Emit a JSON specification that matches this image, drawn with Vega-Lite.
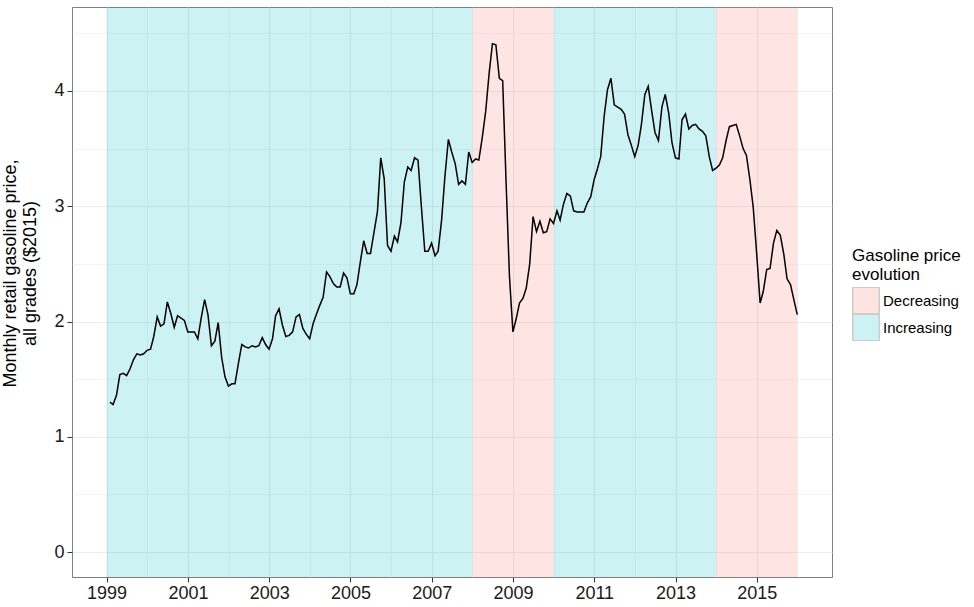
{
  "$schema": "https://vega.github.io/schema/vega-lite/v6.json",
  "width": 760,
  "height": 570,
  "autosize": {"type": "none"},
  "padding": {"left": 72, "top": 7, "right": 142, "bottom": 30},
  "background": "white",
  "config": {
    "font": "Liberation Sans",
    "view": {"stroke": "#7f7f7f", "strokeWidth": 1}
  },
  "layer": [
    {
      "data": {
        "values": [
          {"start": "1999-01-01", "end": "2008-01-01", "evolution": "Increasing"},
          {"start": "2008-01-01", "end": "2010-01-01", "evolution": "Decreasing"},
          {"start": "2010-01-01", "end": "2014-01-01", "evolution": "Increasing"},
          {"start": "2014-01-01", "end": "2016-01-01", "evolution": "Decreasing"}
        ]
      },
      "mark": {"type": "rect", "opacity": 0.2},
      "encoding": {
        "x": {
          "field": "start",
          "type": "temporal",
          "scale": {
            "type": "utc",
            "nice": false,
            "domain": [
              {"year": 1998, "month": 2, "date": 24, "utc": true},
              {"year": 2016, "month": 11, "date": 7, "utc": true}
            ]
          },
          "axis": {
            "values": [
              {"year": 1999, "month": 1, "date": 1, "utc": true},
              {"year": 2000, "month": 1, "date": 1, "utc": true},
              {"year": 2001, "month": 1, "date": 1, "utc": true},
              {"year": 2002, "month": 1, "date": 1, "utc": true},
              {"year": 2003, "month": 1, "date": 1, "utc": true},
              {"year": 2004, "month": 1, "date": 1, "utc": true},
              {"year": 2005, "month": 1, "date": 1, "utc": true},
              {"year": 2006, "month": 1, "date": 1, "utc": true},
              {"year": 2007, "month": 1, "date": 1, "utc": true},
              {"year": 2008, "month": 1, "date": 1, "utc": true},
              {"year": 2009, "month": 1, "date": 1, "utc": true},
              {"year": 2010, "month": 1, "date": 1, "utc": true},
              {"year": 2011, "month": 1, "date": 1, "utc": true},
              {"year": 2012, "month": 1, "date": 1, "utc": true},
              {"year": 2013, "month": 1, "date": 1, "utc": true},
              {"year": 2014, "month": 1, "date": 1, "utc": true},
              {"year": 2015, "month": 1, "date": 1, "utc": true},
              {"year": 2016, "month": 1, "date": 1, "utc": true}
            ],
            "labelExpr": "utcyear(datum.value) % 2 == 1 ? utcFormat(datum.value, '%Y') : ''",
            "grid": true,
            "gridColor": "#EBEBEB",
            "gridWidth": {"condition": {"test": "utcyear(datum.value) % 2 == 1", "value": 1.1}, "value": 0.55},
            "tickColor": "#333333",
            "tickSize": 5,
            "tickWidth": 1,
            "tickOpacity": {"condition": {"test": "utcyear(datum.value) % 2 == 1", "value": 1}, "value": 0},
            "domain": false,
            "title": null,
            "labelFontSize": 18,
            "labelColor": "#1a1a1a",
            "labelPadding": 2,
            "labelFlush": false,
            "labelOverlap": false
          }
        },
        "x2": {"field": "end"},
        "fill": {
          "field": "evolution",
          "type": "nominal",
          "scale": {"domain": ["Decreasing", "Increasing"], "range": ["#F8766D", "#00BFC4"]},
          "legend": {
            "orient": "none",
            "legendX": 780,
            "legendY": 241,
            "title": ["Gasoline price", "evolution"],
            "titleFontSize": 17,
            "titleFontWeight": "normal",
            "titleColor": "black",
            "titlePadding": 3,
            "labelFontSize": 15,
            "labelColor": "black",
            "labelOffset": 3,
            "symbolType": "square",
            "symbolSize": 700,
            "symbolOpacity": 0.2,
            "symbolStrokeColor": "black",
            "symbolStrokeWidth": 1.5,
            "rowPadding": 0,
            "clipHeight": 27
          }
        }
      }
    },
    {
      "data": {
        "values": [
          {"date": "1999-01-31", "price": 1.30},
          {"date": "1999-02-28", "price": 1.28},
          {"date": "1999-03-31", "price": 1.36},
          {"date": "1999-04-30", "price": 1.54},
          {"date": "1999-05-31", "price": 1.55},
          {"date": "1999-06-30", "price": 1.53},
          {"date": "1999-07-31", "price": 1.59},
          {"date": "1999-08-31", "price": 1.67},
          {"date": "1999-09-30", "price": 1.72},
          {"date": "1999-10-31", "price": 1.71},
          {"date": "1999-11-30", "price": 1.72},
          {"date": "1999-12-31", "price": 1.75},
          {"date": "2000-01-31", "price": 1.76},
          {"date": "2000-02-29", "price": 1.87},
          {"date": "2000-03-31", "price": 2.04},
          {"date": "2000-04-30", "price": 1.96},
          {"date": "2000-05-31", "price": 1.98},
          {"date": "2000-06-30", "price": 2.17},
          {"date": "2000-07-31", "price": 2.07},
          {"date": "2000-08-31", "price": 1.95},
          {"date": "2000-09-30", "price": 2.05},
          {"date": "2000-10-31", "price": 2.03},
          {"date": "2000-11-30", "price": 2.01},
          {"date": "2000-12-31", "price": 1.91},
          {"date": "2001-01-31", "price": 1.91},
          {"date": "2001-02-28", "price": 1.91},
          {"date": "2001-03-31", "price": 1.85},
          {"date": "2001-04-30", "price": 2.03},
          {"date": "2001-05-31", "price": 2.19},
          {"date": "2001-06-30", "price": 2.06},
          {"date": "2001-07-31", "price": 1.79},
          {"date": "2001-08-31", "price": 1.83},
          {"date": "2001-09-30", "price": 1.99},
          {"date": "2001-10-31", "price": 1.69},
          {"date": "2001-11-30", "price": 1.52},
          {"date": "2001-12-31", "price": 1.44},
          {"date": "2002-01-31", "price": 1.46},
          {"date": "2002-02-28", "price": 1.46},
          {"date": "2002-03-31", "price": 1.64},
          {"date": "2002-04-30", "price": 1.80},
          {"date": "2002-05-31", "price": 1.78},
          {"date": "2002-06-30", "price": 1.77},
          {"date": "2002-07-31", "price": 1.79},
          {"date": "2002-08-31", "price": 1.78},
          {"date": "2002-09-30", "price": 1.79},
          {"date": "2002-10-31", "price": 1.86},
          {"date": "2002-11-30", "price": 1.80},
          {"date": "2002-12-31", "price": 1.76},
          {"date": "2003-01-31", "price": 1.85},
          {"date": "2003-02-28", "price": 2.05},
          {"date": "2003-03-31", "price": 2.11},
          {"date": "2003-04-30", "price": 1.97},
          {"date": "2003-05-31", "price": 1.87},
          {"date": "2003-06-30", "price": 1.88},
          {"date": "2003-07-31", "price": 1.91},
          {"date": "2003-08-31", "price": 2.04},
          {"date": "2003-09-30", "price": 2.06},
          {"date": "2003-10-31", "price": 1.94},
          {"date": "2003-11-30", "price": 1.89},
          {"date": "2003-12-31", "price": 1.85},
          {"date": "2004-01-31", "price": 1.98},
          {"date": "2004-02-29", "price": 2.06},
          {"date": "2004-03-31", "price": 2.14},
          {"date": "2004-04-30", "price": 2.21},
          {"date": "2004-05-31", "price": 2.43},
          {"date": "2004-06-30", "price": 2.39},
          {"date": "2004-07-31", "price": 2.33},
          {"date": "2004-08-31", "price": 2.30},
          {"date": "2004-09-30", "price": 2.30},
          {"date": "2004-10-31", "price": 2.42},
          {"date": "2004-11-30", "price": 2.38},
          {"date": "2004-12-31", "price": 2.24},
          {"date": "2005-01-31", "price": 2.24},
          {"date": "2005-02-28", "price": 2.32},
          {"date": "2005-03-31", "price": 2.52},
          {"date": "2005-04-30", "price": 2.70},
          {"date": "2005-05-31", "price": 2.59},
          {"date": "2005-06-30", "price": 2.59},
          {"date": "2005-07-31", "price": 2.77},
          {"date": "2005-08-31", "price": 2.95},
          {"date": "2005-09-30", "price": 3.42},
          {"date": "2005-10-31", "price": 3.24},
          {"date": "2005-11-30", "price": 2.66},
          {"date": "2005-12-31", "price": 2.61},
          {"date": "2006-01-31", "price": 2.74},
          {"date": "2006-02-28", "price": 2.69},
          {"date": "2006-03-31", "price": 2.86},
          {"date": "2006-04-30", "price": 3.21},
          {"date": "2006-05-31", "price": 3.34},
          {"date": "2006-06-30", "price": 3.31},
          {"date": "2006-07-31", "price": 3.42},
          {"date": "2006-08-31", "price": 3.40},
          {"date": "2006-09-30", "price": 3.00},
          {"date": "2006-10-31", "price": 2.61},
          {"date": "2006-11-30", "price": 2.61},
          {"date": "2006-12-31", "price": 2.68},
          {"date": "2007-01-31", "price": 2.57},
          {"date": "2007-02-28", "price": 2.61},
          {"date": "2007-03-31", "price": 2.88},
          {"date": "2007-04-30", "price": 3.26},
          {"date": "2007-05-31", "price": 3.58},
          {"date": "2007-06-30", "price": 3.47},
          {"date": "2007-07-31", "price": 3.37},
          {"date": "2007-08-31", "price": 3.19},
          {"date": "2007-09-30", "price": 3.22},
          {"date": "2007-10-31", "price": 3.19},
          {"date": "2007-11-30", "price": 3.47},
          {"date": "2007-12-31", "price": 3.38},
          {"date": "2008-01-31", "price": 3.41},
          {"date": "2008-02-29", "price": 3.40},
          {"date": "2008-03-31", "price": 3.60},
          {"date": "2008-04-30", "price": 3.82},
          {"date": "2008-05-31", "price": 4.15},
          {"date": "2008-06-30", "price": 4.41},
          {"date": "2008-07-31", "price": 4.40},
          {"date": "2008-08-31", "price": 4.11},
          {"date": "2008-09-30", "price": 4.09},
          {"date": "2008-10-31", "price": 3.20},
          {"date": "2008-11-30", "price": 2.39},
          {"date": "2008-12-31", "price": 1.91},
          {"date": "2009-01-31", "price": 2.03},
          {"date": "2009-02-28", "price": 2.16},
          {"date": "2009-03-31", "price": 2.20},
          {"date": "2009-04-30", "price": 2.29},
          {"date": "2009-05-31", "price": 2.50},
          {"date": "2009-06-30", "price": 2.91},
          {"date": "2009-07-31", "price": 2.78},
          {"date": "2009-08-31", "price": 2.87},
          {"date": "2009-09-30", "price": 2.77},
          {"date": "2009-10-31", "price": 2.78},
          {"date": "2009-11-30", "price": 2.89},
          {"date": "2009-12-31", "price": 2.85},
          {"date": "2010-01-31", "price": 2.96},
          {"date": "2010-02-28", "price": 2.88},
          {"date": "2010-03-31", "price": 3.02},
          {"date": "2010-04-30", "price": 3.11},
          {"date": "2010-05-31", "price": 3.09},
          {"date": "2010-06-30", "price": 2.96},
          {"date": "2010-07-31", "price": 2.95},
          {"date": "2010-08-31", "price": 2.95},
          {"date": "2010-09-30", "price": 2.95},
          {"date": "2010-10-31", "price": 3.03},
          {"date": "2010-11-30", "price": 3.08},
          {"date": "2010-12-31", "price": 3.23},
          {"date": "2011-01-31", "price": 3.33},
          {"date": "2011-02-28", "price": 3.43},
          {"date": "2011-03-31", "price": 3.78},
          {"date": "2011-04-30", "price": 4.01},
          {"date": "2011-05-31", "price": 4.11},
          {"date": "2011-06-30", "price": 3.88},
          {"date": "2011-07-31", "price": 3.86},
          {"date": "2011-08-31", "price": 3.84},
          {"date": "2011-09-30", "price": 3.80},
          {"date": "2011-10-31", "price": 3.62},
          {"date": "2011-11-30", "price": 3.53},
          {"date": "2011-12-31", "price": 3.43},
          {"date": "2012-01-31", "price": 3.53},
          {"date": "2012-02-29", "price": 3.71},
          {"date": "2012-03-31", "price": 3.97},
          {"date": "2012-04-30", "price": 4.04},
          {"date": "2012-05-31", "price": 3.83},
          {"date": "2012-06-30", "price": 3.64},
          {"date": "2012-07-31", "price": 3.57},
          {"date": "2012-08-31", "price": 3.86},
          {"date": "2012-09-30", "price": 3.97},
          {"date": "2012-10-31", "price": 3.81},
          {"date": "2012-11-30", "price": 3.55},
          {"date": "2012-12-31", "price": 3.42},
          {"date": "2013-01-31", "price": 3.41},
          {"date": "2013-02-28", "price": 3.75},
          {"date": "2013-03-31", "price": 3.80},
          {"date": "2013-04-30", "price": 3.67},
          {"date": "2013-05-31", "price": 3.70},
          {"date": "2013-06-30", "price": 3.71},
          {"date": "2013-07-31", "price": 3.67},
          {"date": "2013-08-31", "price": 3.65},
          {"date": "2013-09-30", "price": 3.61},
          {"date": "2013-10-31", "price": 3.43},
          {"date": "2013-11-30", "price": 3.31},
          {"date": "2013-12-31", "price": 3.33},
          {"date": "2014-01-31", "price": 3.36},
          {"date": "2014-02-28", "price": 3.42},
          {"date": "2014-03-31", "price": 3.57},
          {"date": "2014-04-30", "price": 3.69},
          {"date": "2014-05-31", "price": 3.70},
          {"date": "2014-06-30", "price": 3.71},
          {"date": "2014-07-31", "price": 3.61},
          {"date": "2014-08-31", "price": 3.50},
          {"date": "2014-09-30", "price": 3.44},
          {"date": "2014-10-31", "price": 3.23},
          {"date": "2014-11-30", "price": 2.99},
          {"date": "2014-12-31", "price": 2.59},
          {"date": "2015-01-31", "price": 2.16},
          {"date": "2015-02-28", "price": 2.26},
          {"date": "2015-03-31", "price": 2.45},
          {"date": "2015-04-30", "price": 2.46},
          {"date": "2015-05-31", "price": 2.68},
          {"date": "2015-06-30", "price": 2.79},
          {"date": "2015-07-31", "price": 2.75},
          {"date": "2015-08-31", "price": 2.59},
          {"date": "2015-09-30", "price": 2.37},
          {"date": "2015-10-31", "price": 2.32},
          {"date": "2015-11-30", "price": 2.19},
          {"date": "2015-12-31", "price": 2.06}
        ]
      },
      "mark": {"type": "line", "color": "black", "strokeWidth": 1.5},
      "encoding": {
        "x": {"field": "date", "type": "temporal"},
        "y": {
          "field": "price",
          "type": "quantitative",
          "scale": {"domain": [-0.216, 4.728], "nice": false, "zero": false},
          "axis": {
            "values": [0, 0.5, 1, 1.5, 2, 2.5, 3, 3.5, 4, 4.5],
            "labelExpr": "datum.value % 1 == 0 ? format(datum.value, 'd') : ''",
            "grid": true,
            "gridColor": "#EBEBEB",
            "gridWidth": {"condition": {"test": "datum.value % 1 == 0", "value": 1.1}, "value": 0.55},
            "tickColor": "#333333",
            "tickSize": 5,
            "tickWidth": 1,
            "tickOpacity": {"condition": {"test": "datum.value % 1 == 0", "value": 1}, "value": 0},
            "domain": false,
            "labelFontSize": 18,
            "labelColor": "#1a1a1a",
            "labelPadding": 3,
            "labelFlush": false,
            "labelOverlap": false,
            "title": ["Monthly retail gasoline price,", "all grades ($2015)"],
            "titleFontSize": 18,
            "titleFontWeight": "normal",
            "titleColor": "black",
            "titlePadding": 14,
            "titleY": 266
          }
        }
      }
    }
  ]
}
